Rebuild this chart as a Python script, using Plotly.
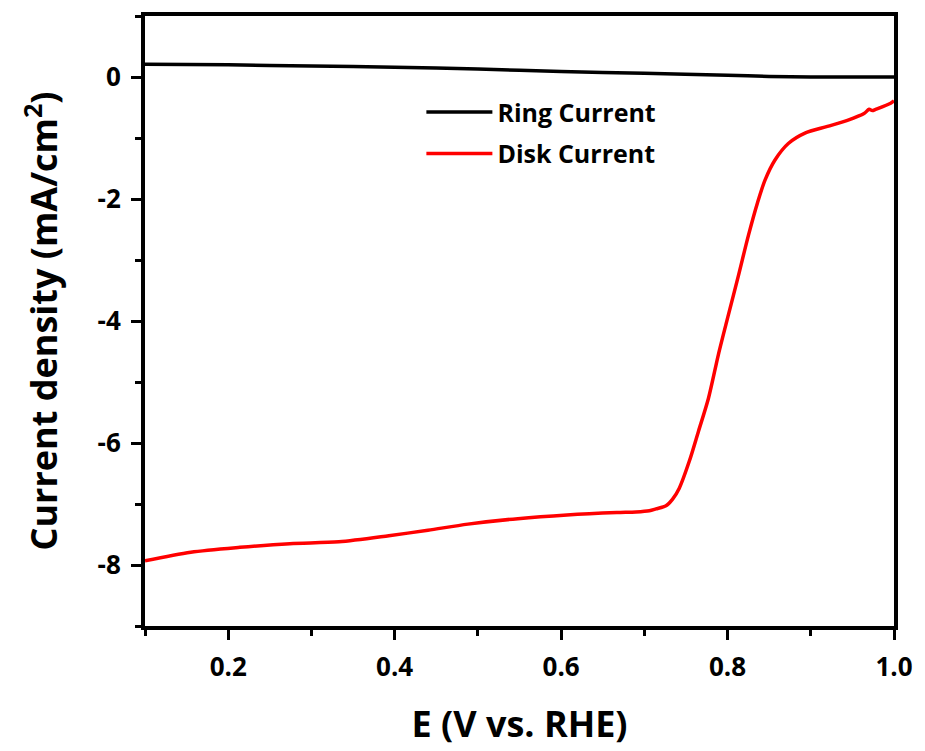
import plotly.graph_objects as go

# Ring current (black)
ring_E = [0.10, 0.20, 0.30, 0.40, 0.50, 0.60, 0.70, 0.80, 0.85, 0.90, 1.00]
ring_J = [0.21, 0.20, 0.18, 0.16, 0.13, 0.09, 0.06, 0.03, 0.01, 0.00, 0.00]

# Disk current (red)
disk_E = [0.100, 0.155, 0.214, 0.274, 0.333, 0.393, 0.440, 0.488, 0.548, 0.607,
          0.667, 0.690, 0.706, 0.714, 0.726, 0.734, 0.742, 0.754, 0.765, 0.777,
          0.789, 0.801, 0.813, 0.825, 0.836, 0.845, 0.857, 0.873, 0.893, 0.920,
          0.944, 0.964, 0.970, 0.974, 0.978, 0.996, 1.000]
disk_J = [-7.93, -7.79, -7.71, -7.65, -7.62, -7.52, -7.43, -7.33, -7.24, -7.18,
          -7.14, -7.13, -7.11, -7.08, -7.03, -6.92, -6.74, -6.30, -5.81, -5.27,
          -4.55, -3.90, -3.26, -2.60, -2.06, -1.69, -1.36, -1.09, -0.92, -0.81,
          -0.71, -0.60, -0.53, -0.55, -0.53, -0.43, -0.39]

# Tick labels (hyphen-minus as in the original figure)
x_tickvals = [0.2, 0.4, 0.6, 0.8, 1.0]
x_ticktext = ["0.2", "0.4", "0.6", "0.8", "1.0"]
y_tickvals = [0, -2, -4, -6, -8]
y_ticktext = ["0", "-2", "-4", "-6", "-8"]

FONT = "Open Sans"

fig = go.Figure()
fig.add_trace(go.Scatter(x=ring_E, y=ring_J, mode="lines", name="Ring Current",
                         legendgroup="ring",
                         line=dict(color="black", width=3.5, shape="spline", smoothing=0.6)))
fig.add_trace(go.Scatter(x=disk_E, y=disk_J, mode="lines", name="Disk Current",
                         legendgroup="disk",
                         line=dict(color="#ff0000", width=3.5, shape="spline", smoothing=0.8)))

axis_common = dict(
    showgrid=False, zeroline=False, showline=True, linecolor="black", linewidth=4,
    mirror=True, ticks="outside", ticklen=10, tickwidth=3, tickcolor="black",
    tickfont=dict(family=FONT, size=26, color="black", weight="bold"),
    ticklabelstandoff=5,
)

fig.update_xaxes(
    range=[0.1, 1.0], tickmode="array", tickvals=x_tickvals, ticktext=x_ticktext,
    minor=dict(dtick=0.1, tick0=0.1, ticks="outside", ticklen=6, tickwidth=3, tickcolor="black"),
    title=dict(text="E (V vs. RHE)", font=dict(family=FONT, size=36, color="black", weight="bold"),
               standoff=30),
    **axis_common,
)
fig.update_yaxes(
    range=[-9, 1], tickmode="array", tickvals=y_tickvals, ticktext=y_ticktext,
    minor=dict(dtick=1, tick0=1, ticks="outside", ticklen=6, tickwidth=3, tickcolor="black"),
    title=dict(text="Current density (mA/cm<sup>2</sup>)",
               font=dict(family=FONT, size=36, color="black", weight="bold"), standoff=30),
    **axis_common,
)

fig.update_layout(
    width=925, height=751,
    margin=dict(l=145, r=25, t=13, b=124),
    paper_bgcolor="white", plot_bgcolor="white",
    showlegend=True,
    legend=dict(x=0.369, y=0.88, xanchor="left", yanchor="top",
                bgcolor="rgba(0,0,0,0)", borderwidth=0, itemwidth=66,
                traceorder="grouped", tracegroupgap=6,
                font=dict(family=FONT, size=25, color="black", weight="bold")),
)

fig.write_html("out.html")
